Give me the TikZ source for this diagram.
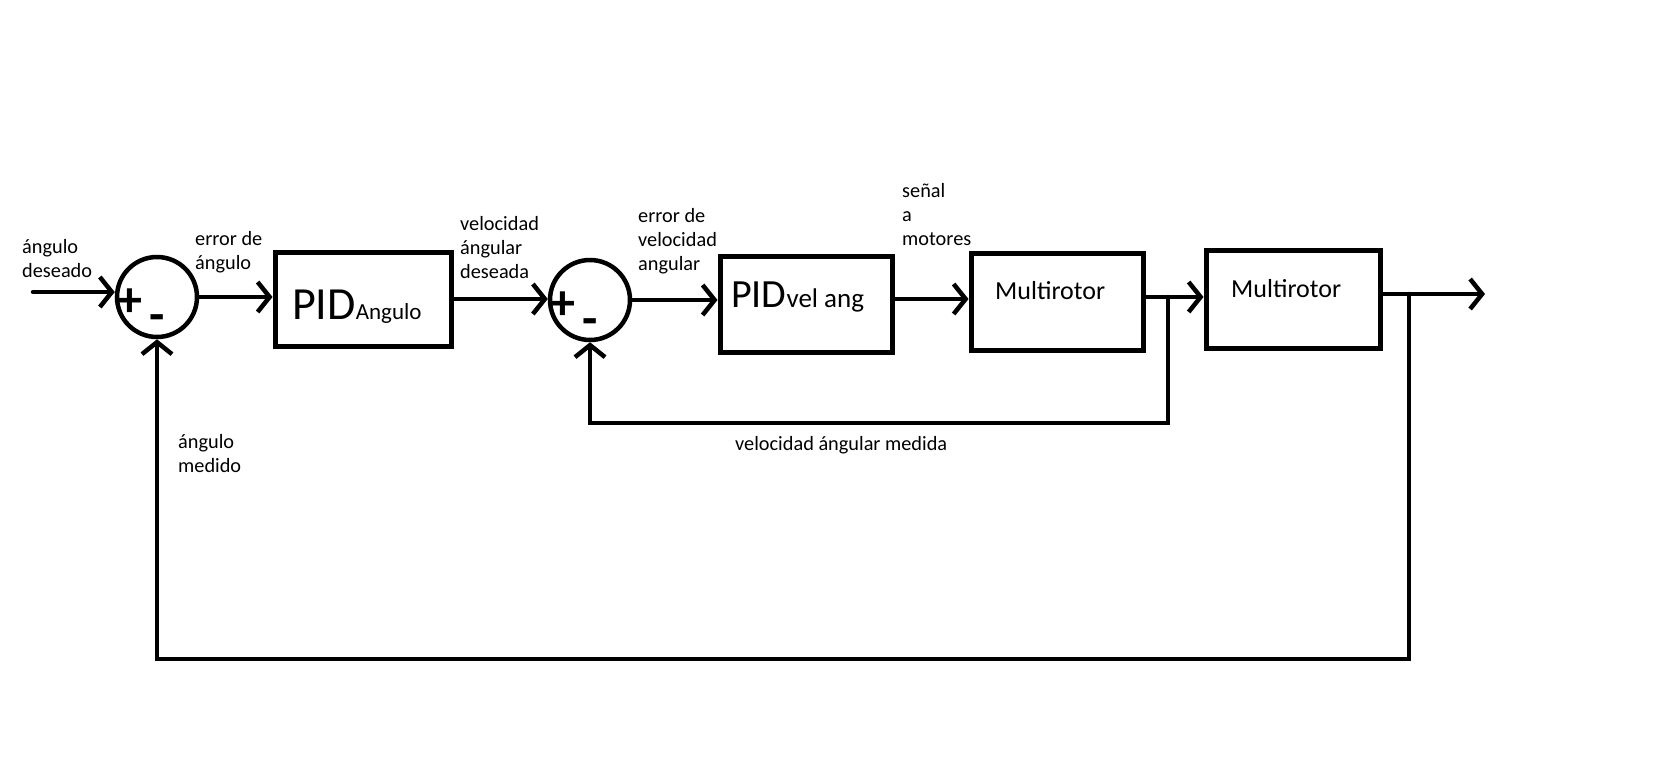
\documentclass[tikz,border=0pt]{standalone}
\usepackage{fontspec}
\setmainfont{Carlito}
\usetikzlibrary{arrows.meta}
\begin{document}
\begin{tikzpicture}[x=1pt,y=-1pt,
  wire/.style={line width=4.5pt, line cap=round, line join=miter},
  arr/.style={wire, -{Straight Barb[length=12pt,width=30pt]}},
  blk/.style={draw, line width=5pt, rectangle, inner sep=0pt},
  sumnode/.style={draw, circle, line width=4.5pt, minimum size=80pt, inner sep=0pt},
  lbl/.style={anchor=base west, align=left, inner sep=0pt, font=\fontsize{20.3}{23.7}\selectfont},
  sgn/.style={anchor=base, inner sep=0pt, font=\fontsize{50}{50}\bfseries\selectfont},
  txt/.style={anchor=base west, inner sep=0pt},
]
\useasboundingbox (0,0) rectangle (1667,776);
% summing junctions and blocks
\node[sumnode] (s1) at (157,297) {};
\node[sumnode] (s2) at (590,300) {};
\node[blk, minimum width=176pt, minimum height=94pt] (b1) at (363,299) {};
\node[blk, minimum width=172pt, minimum height=96pt] (b2) at (806,304) {};
\node[blk, minimum width=172pt, minimum height=97pt] (b3) at (1057,301.5) {};
\node[blk, minimum width=174pt, minimum height=98pt] (b4) at (1293,299) {};
% block texts
\node[txt] (t1) at (292,319) {\fontsize{46}{46}\selectfont PID\fontsize{23}{23}\selectfont Angulo};
\node[txt] (t2) at (731,307) {\fontsize{40}{40}\selectfont PID\fontsize{27}{27}\selectfont vel ang};
\node[txt] (t3) at (995,299) {\fontsize{26}{26}\selectfont Multirotor};
\node[txt] (t4) at (1231,297) {\fontsize{26}{26}\selectfont Multirotor};
% signs
\node[sgn] (p1) at (130,316) {+};
\node[sgn] (m1) at (157,331) {-};
\node[sgn] (p2) at (563,319) {+};
\node[sgn] (m2) at (590,335) {-};
% free ends and branch points
\coordinate (in) at (33,292);
\coordinate (out) at (1485,294);
\coordinate (br1) at (1168,297);
\coordinate (fb1) at (1168,423);
\coordinate (br2) at (1409,294);
\coordinate (fb2) at (1409,659);
% connectors
\draw[arr] (in) -- (in -| s1.west);
\draw[arr] (s1.east) -- (s1.east -| b1.west);
\draw[arr] (b1.east) -- (b1.east -| s2.west);
\draw[arr] (s2.east) -- (s2.east -| b2.west);
\draw[arr] ([yshift=5pt]b2.east) -- ([yshift=5pt]b2.east -| b3.west);
\draw[arr] (b3.east |- br1) -- (br1 -| b4.west);
\draw[arr] (b4.east |- out) -- (out);
\draw[arr] (br1) -- (fb1) -- (fb1 -| s2) -- (s2.south);
\draw[arr] (br2) -- (fb2) -- (fb2 -| s1) -- (s1.south);
% labels (anchored at the baseline of their last line)
\node[lbl] (l1) at (22,277) {ángulo\\deseado};
\node[lbl] (l2) at (195,269) {error de\\ángulo};
\node[lbl] (l3) at (460,278) {velocidad\\ángular\\deseada};
\node[lbl] (l4) at (638,270) {error de\\velocidad\\angular};
\node[lbl] (l5) at (902,245) {señal\\a\\motores};
\node[lbl] (l6) at (735,450) {velocidad ángular medida};
\node[lbl] (l7) at (178,472) {ángulo\\medido};
\end{tikzpicture}
\end{document}
